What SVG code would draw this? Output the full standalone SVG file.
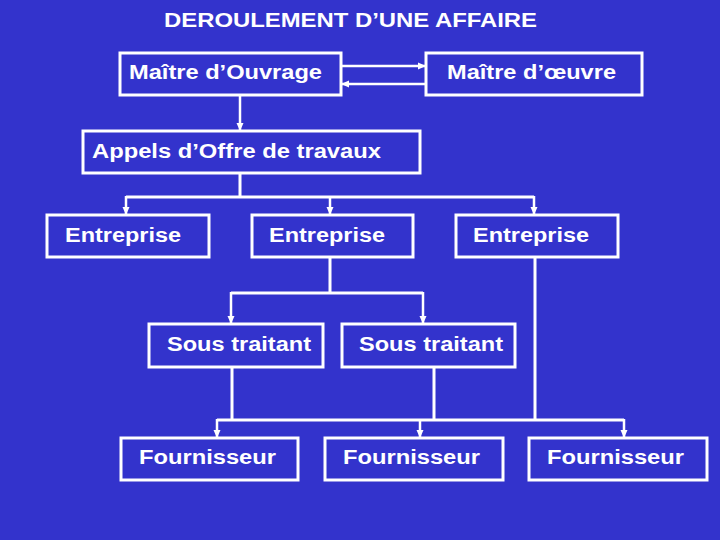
<svg xmlns="http://www.w3.org/2000/svg" width="720" height="540" viewBox="0 0 720 540">
<defs>
<marker id="ah" markerUnits="userSpaceOnUse" markerWidth="8" markerHeight="8" viewBox="0 0 8 8" refX="8" refY="4" orient="auto">
<path d="M0,0.5 L8,4 L0,7.5 Z" fill="#ffffff"/>
</marker>
<style>
.box{fill:none;stroke:#ffffff;stroke-width:3}
.lbl{font-family:"Liberation Sans",Arial,sans-serif;font-weight:bold;font-size:20px;fill:#ffffff}
.ln{fill:none;stroke:#ffffff;stroke-width:3}
.ar{fill:none;stroke:#ffffff;stroke-width:2.5;marker-end:url(#ah)}
</style>
</defs>
<rect x="0" y="0" width="720" height="540" fill="#3333cc"/>
<text class="lbl" x="164" y="27" textLength="373" lengthAdjust="spacingAndGlyphs">DEROULEMENT D’UNE AFFAIRE</text>

<g id="connectors">
<path class="ar" d="M341,66 H426"/>
<path class="ar" d="M426,84 H341"/>
<path class="ar" d="M240,95 V131"/>
<path class="ln" d="M240,173 V197 M126,197 H534"/>
<path class="ar" d="M126,196 V215"/>
<path class="ar" d="M330,196 V215"/>
<path class="ar" d="M534,196 V215"/>
<path class="ln" d="M330,257 V293 M231,293 H423"/>
<path class="ar" d="M231,292 V324"/>
<path class="ar" d="M423,292 V324"/>
<path class="ln" d="M232,367 V420 M434,367 V420 M535,257 V420 M217,420 H624"/>
<path class="ar" d="M217,419 V438"/>
<path class="ar" d="M420,419 V438"/>
<path class="ar" d="M624,419 V438"/>
</g>

<g id="maitre-ouvrage"><rect class="box" x="120" y="53" width="221" height="42"/><text class="lbl" x="129" y="79" textLength="193" lengthAdjust="spacingAndGlyphs">Maître d’Ouvrage</text></g>
<g id="maitre-oeuvre"><rect class="box" x="426" y="53" width="216" height="42"/><text class="lbl" x="447" y="79" textLength="169" lengthAdjust="spacingAndGlyphs">Maître d’œuvre</text></g>
<g id="appels"><rect class="box" x="83" y="131" width="337" height="42"/><text class="lbl" x="92" y="158" textLength="289" lengthAdjust="spacingAndGlyphs">Appels d’Offre de travaux</text></g>
<g id="entreprise1"><rect class="box" x="47" y="215" width="162" height="42"/><text class="lbl" x="65" y="242" textLength="116" lengthAdjust="spacingAndGlyphs">Entreprise</text></g>
<g id="entreprise2"><rect class="box" x="252" y="215" width="161" height="42"/><text class="lbl" x="269" y="242" textLength="116" lengthAdjust="spacingAndGlyphs">Entreprise</text></g>
<g id="entreprise3"><rect class="box" x="456" y="215" width="162" height="42"/><text class="lbl" x="473" y="242" textLength="116" lengthAdjust="spacingAndGlyphs">Entreprise</text></g>
<g id="sous-traitant1"><rect class="box" x="149" y="324" width="174" height="43"/><text class="lbl" x="167" y="351" textLength="144" lengthAdjust="spacingAndGlyphs">Sous traitant</text></g>
<g id="sous-traitant2"><rect class="box" x="342" y="324" width="173" height="43"/><text class="lbl" x="359" y="351" textLength="144" lengthAdjust="spacingAndGlyphs">Sous traitant</text></g>
<g id="fournisseur1"><rect class="box" x="121" y="438" width="177" height="42"/><text class="lbl" x="139" y="464" textLength="137" lengthAdjust="spacingAndGlyphs">Fournisseur</text></g>
<g id="fournisseur2"><rect class="box" x="325" y="438" width="178" height="42"/><text class="lbl" x="343" y="464" textLength="137" lengthAdjust="spacingAndGlyphs">Fournisseur</text></g>
<g id="fournisseur3"><rect class="box" x="529" y="438" width="178" height="42"/><text class="lbl" x="547" y="464" textLength="137" lengthAdjust="spacingAndGlyphs">Fournisseur</text></g>
</svg>
